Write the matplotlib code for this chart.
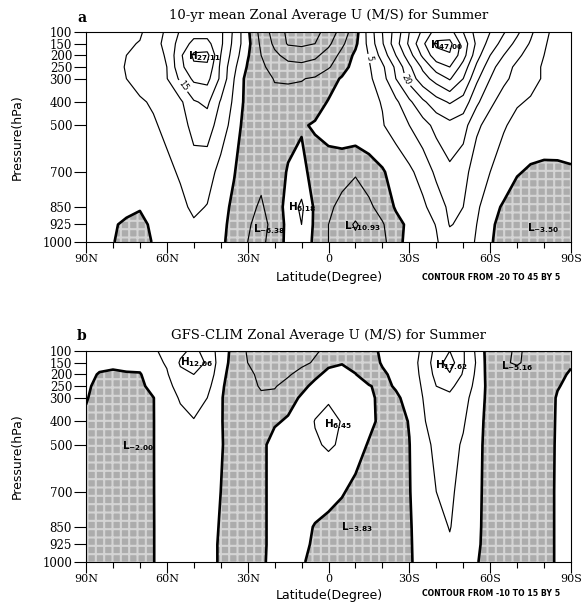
import numpy as np
import matplotlib
matplotlib.use("Agg")
import matplotlib.pyplot as plt

# ---------------- data ----------------
lats = [90, 85, 80, 75, 70, 65, 60, 55, 50, 45, 40, 35, 30, 25, 20, 15, 10, 5, 0,
        -5, -10, -15, -20, -25, -30, -35, -40, -45, -50, -55, -60, -65, -70, -75, -80, -85, -90]
plevs = [100, 150, 200, 250, 300, 400, 500, 700, 850, 925, 1000]
ytick_labels = ["100", "150", "200", "250", "300", "400", "500", "700", "850", "925", "1000"]
xtick_pos = [90, 60, 30, 0, -30, -60, -90]
xtick_labels = ["90N", "60N", "30N", "0", "30S", "60S", "90S"]

# Panel a: 10-yr mean zonal average U (m/s), one row per pressure level
ua_100 = [2, 2.5, 3, 3.5, 4.5, 7, 11, 15.5, 18, 18, 16, 9, 1, -7, -12, -16, -17, -16.5, -13, -8,
          -2, 7, 15, 22, 30, 36, 42, 42, 35, 28, 25, 20.5, 16, 11, 6, 3.5, 2]
ua_150 = [2.2, 2.8, 3.5, 4.5, 5.2, 8, 11.5, 17, 21.5, 21.5, 16, 8.5, 1.5, -6, -11, -15.5, -16, -15, -11, -6,
          -1, 6.5, 14.5, 23, 31, 39, 46, 46.5, 38, 29, 23, 18, 13.5, 9.5, 5.5, 3, 2]
ua_200 = [2.5, 3, 4, 5, 6.5, 8, 10.5, 19, 26, 26.5, 15, 7.5, 0.5, -5, -9, -11.5, -12, -11, -8, -3.5,
          1, 5.2, 12, 20, 28, 36, 43, 44.5, 37, 27, 20, 15, 11, 8, 5, 3, 2]
ua_250 = [2.5, 3, 4, 5.2, 6.5, 8.5, 10, 18.5, 24, 24, 14, 6, -0.5, -4, -7, -8.5, -8.8, -8, -5.5, -2,
          2, 4.5, 9, 16, 24, 31, 37.5, 40, 33, 24, 17, 12, 9, 6.5, 4.5, 3, 2]
ua_300 = [2.5, 3, 4, 5, 6.5, 8, 9.8, 16, 21, 21.5, 14, 5, -2, -3.5, -5.2, -5.3, -5.2, -4.5, -2, 0.5,
          2.5, 4, 8, 15, 22, 28, 32, 35.5, 30, 21, 15, 11, 8.5, 6.5, 4.5, 3, 2]
ua_400 = [2, 2.5, 3.5, 4, 4.5, 5.5, 7, 9, 14.5, 16, 9.5, 4, -2, -3, -4, -4, -3.5, -2, 0.3, 2,
          3.5, 4, 5.2, 9, 14, 19, 23, 25.5, 23, 16, 11, 8, 5.5, 4.5, 3.5, 2.5, 2]
ua_500 = [1.5, 2, 2.5, 3, 4, 4.5, 6, 8, 11.5, 12.5, 7.5, 3, -3, -3.5, -3.5, -2, -0.5, 0.5, 2, 3,
          3.5, 4, 4.7, 7, 10, 13, 16.5, 18.5, 17, 11, 8, 5.5, 3.5, 2.5, 2, 1.5, 1.5]
ua_700 = [1, 1.5, 1.5, 2, 2.5, 3, 4, 5.5, 8, 7, 3.5, 0.3, -4, -4, -3, 0.5, 1.5, -2, -2.5, -3,
          -4.5, -2.5, -0.5, 2, 4, 7, 11, 14, 12, 7, 5, 2.5, 0.3, -0.5, -0.7, -0.5, -0.3]
ua_850 = [1, 1, 0.8, 0.8, 0.2, 1.5, 2.5, 4, 5.8, 4.8, 2, -1.2, -4, -5.5, -3, 2, 6, -1, -4, -6.5,
          -8, -6, -3, 0.5, 2, 4, 7.5, 11, 10, 6, 1.5, -0.5, -2, -3, -3.2, -3, -2.5]
ua_925 = [1, 0.8, 0.3, -0.5, -0.7, 0.5, 2, 3.5, 4.5, 4, 1.5, -1.8, -4.5, -6.5, -3.5, 1.5, 5, -1, -5, -8,
          -10.5, -8, -5.5, -1.5, 1, 3, 5.2, 10.3, 9, 5, 0.8, -1.5, -2.8, -3.4, -3.5, -3, -2.5]
ua_1000 = [1, 0.5, 0.2, -1.5, -1.8, 0.3, 1.5, 3, 4, 3.5, 1, -2, -5, -6, -3, 1.5, 3, -1, -5, -7,
           -9, -7, -6.5, -1.5, 1.5, 3, 4.5, 8, 7.5, 4.5, 0.5, -2, -3, -3.2, -3.3, -2.5, -2]

# Panel b: GFS - CLIM zonal average U difference (m/s)
ub_100 = [1, 1.5, 2, 3, 4, 4.5, 6, 9, 11, 8.5, 2.5, -1.5, -5.5, -7, -7.5, -7, -6.5, -5.5, -4, -3,
          -2, -1, 0.5, 1, 2, 6, 11.5, 15, 10.5, 4, -3, -4.5, -5.3, -4.5, -2.5, -1.5, -0.5]
ub_150 = [1, 0.8, 0.7, 1, 1.5, 3.5, 5.5, 10.5, 12, 9.5, 2.5, -2, -5, -6.5, -7, -6.5, -6, -4.5, -0.8, -0.2,
          -1, -1.5, 0.3, 1, 2.5, 6.5, 12.5, 17.5, 10.5, 4.5, -3, -4.8, -5.2, -4.5, -2.5, -1.2, -0.3]
ub_200 = [0.8, -0.2, -0.5, -0.3, -0.3, 2.5, 4.5, 9, 10, 8, 2, -3, -4.5, -5.5, -6, -5.5, -3.5, -0.8, 1, 1.2,
          0.1, -1.5, -0.5, 0.8, 2.5, 6, 11.5, 14.5, 9.5, 4, -2.5, -4, -4.3, -3.5, -2, -0.6, 0.3]
ub_250 = [0.5, -0.8, -1, -1, -1, 1.5, 3.5, 7, 8, 6.5, 1, -3, -4, -5.3, -5.3, -3.5, -1, 1, 2.5, 2.5,
          1.5, 0.2, -0.8, 0.3, 2, 5.5, 10, 11, 8, 3.5, -2, -3.5, -3.5, -3, -1.8, -0.2, 0.8]
ub_300 = [0.2, -1, -1.2, -1.5, -1.5, -0.1, 2.5, 5.5, 6.5, 5, 0.5, -3, -3.5, -4.5, -4, -1.5, 0.5, 3, 4.5, 3.5,
          2.5, 0.8, -1, -0.5, 1, 5, 8.5, 9, 6.5, 3, -2, -3, -3, -2.5, -1.8, 0.3, 1]
ub_400 = [-0.5, -1.3, -1.5, -1.8, -2, -0.1, 2, 3.5, 4.8, 3.5, 0.3, -2, -2.5, -3, -0.5, 0.5, 2, 5.2, 6.3, 4.8,
          3.5, 1.5, -1.5, -1.5, 0.2, 4.5, 7, 7.5, 5.5, 2, -2, -2.8, -3, -2.5, -1.8, 0.4, 1]
ub_500 = [-1, -1.5, -1.8, -2, -2.1, -0.1, 2, 3, 3.5, 2.5, 0.3, -1.5, -2, -1, 1.5, 2, 3, 4.5, 5.5, 4.5,
          2.5, -0.5, -2.5, -2, -0.1, 3.5, 6, 6.5, 4.5, 1.5, -2, -2.8, -3, -2.5, -1.8, 0.5, 1]
ub_700 = [-1, -1.3, -1.5, -1.8, -2, -0.1, 1.8, 2.5, 3, 2, 0, -1.5, -2, -1, 1.5, 2, 2.5, 2.5, 2, 0.5,
          -1.5, -3, -3.3, -2.5, -0.2, 2.5, 5, 5.8, 3.5, 1.2, -2, -2.8, -3.5, -2.5, -1.5, 0.5, 1]
ub_850 = [-1, -1.2, -1.5, -1.5, -1.8, -0.1, 1.5, 2, 2.5, 1.5, -0.3, -1.5, -2, -1, 1.5, 1.5, 1.5, -0.3, -1.5, -2.5,
          -3.8, -3.6, -3.3, -2.5, -0.3, 1.5, 3.5, 5.2, 3, 1, -2, -2.5, -3, -2.5, -1.5, 0.5, 1]
ub_925 = [-1, -1.2, -1.5, -1.5, -1.6, -0.1, 1.5, 2, 2, 1.5, -0.5, -1.5, -2, -1, 1.5, 1.2, 0.8, -0.5, -1.5, -2.3,
          -3.2, -3.2, -3, -2.3, -0.3, 1.2, 3, 4.5, 2.5, 0.8, -2, -2.5, -3, -2.5, -1.5, 0.5, 1]
ub_1000 = [-1, -1.2, -1.5, -1.5, -1.5, -0.1, 1.5, 2, 2, 1.5, -0.5, -1.5, -2, -0.8, 1.5, 1, 0.3, -0.8, -1.5, -2,
           -2.5, -3, -3, -2, -0.3, 1, 2.5, 4, 2.5, 0.3, -2, -2.5, -3, -2.5, -1.5, 0.5, 1]

levels_a = [-20, -15, -10, -5, 5, 10, 15, 20, 25, 30, 35, 40, 45]
levels_b = [-10, -5, 5, 10, 15]

# extrema annotations: (letter, value, lat, pressure)
extrema_a = [("H", "27.11", 45.8, 203), ("L", "-6.38", 22, 944), ("H", "6.18", 9.8, 850),
             ("L", "-10.93", -12.8, 931), ("H", "47.00", -44, 156), ("L", "-3.50", -79.6, 940)]
extrema_b = [("H", "12.06", 48.8, 147), ("L", "-2.00", 70.7, 505), ("H", "6.45", -3.5, 410),
             ("H", "17.62", -45.5, 160), ("L", "-5.16", -70, 165), ("L", "-3.83", -10.6, 851)]

# inline contour-label anchor points (lat, pressure)
clabel_pts_a = [(55, 340), (-16, 211), (-27.7, 314)]
clabel_pts_b = []

titles = ["10-yr mean Zonal Average U (M/S) for Summer",
          "GFS-CLIM Zonal Average U (M/S) for Summer"]
notes = ["CONTOUR FROM -20 TO 45 BY 5", "CONTOUR FROM -10 TO 15 BY 5"]
panel_letters = ["a", "b"]

# ---------------- plotting ----------------
plt.rcParams["hatch.color"] = "#d4d4d4"
plt.rcParams["hatch.linewidth"] = 1.5
plt.rcParams["contour.negative_linestyle"] = "solid"

fig = plt.figure(figsize=(5.82, 6.03), dpi=100)
W, H = 582.0, 603.0
ax_a = fig.add_axes([86 / W, 1 - 242 / H, 485 / W, 210 / H])
ax_b = fig.add_axes([86 / W, 1 - 562 / H, 485 / W, 211 / H])

U_a = np.array([ua_100, ua_150, ua_200, ua_250, ua_300, ua_400, ua_500, ua_700, ua_850, ua_925, ua_1000])
U_b = np.array([ub_100, ub_150, ub_200, ub_250, ub_300, ub_400, ub_500, ub_700, ub_850, ub_925, ub_1000])
LAT, P = np.meshgrid(np.array(lats, float), np.array(plevs, float))

serif = "DejaVu Serif"
label_y_px = [278, 595]
letter_y_px = [18, 336]

for i, (ax, U, lv, ext, cpts) in enumerate([
        (ax_a, U_a, levels_a, extrema_a, clabel_pts_a),
        (ax_b, U_b, levels_b, extrema_b, clabel_pts_b)]):
    ax.contourf(LAT, P, U, levels=[-100, 0], colors=["#acacac"], hatches=["++"])
    cs = ax.contour(LAT, P, U, levels=lv, colors="k", linewidths=0.85)
    ax.contour(LAT, P, U, levels=[0], colors="k", linewidths=1.9)
    if cpts:
        ax.clabel(cs, manual=cpts, fmt="%d", fontsize=6, inline=True, inline_spacing=2)

    ax.set_xlim(90, -90)
    ax.set_ylim(1000, 100)
    ax.set_yticks(plevs)
    ax.set_yticklabels(ytick_labels, fontsize=8.5, family=serif)
    ax.set_xticks(xtick_pos)
    ax.set_xticklabels(xtick_labels, fontsize=8, family=serif)
    ax.set_xticks(np.arange(-80, 90, 10), minor=True)
    ax.tick_params(axis="x", which="major", direction="out", length=8, width=0.8, pad=1)
    ax.tick_params(axis="x", which="minor", direction="out", length=4, width=0.8)
    ax.tick_params(axis="y", which="major", direction="out", length=9, width=0.8, pad=1)
    for s in ax.spines.values():
        s.set_linewidth(0.8)

    ax.set_ylabel("Pressure(hPa)", fontsize=9)
    ax.yaxis.set_label_coords(-0.128, 0.5)
    ax.set_title(titles[i], fontsize=9.5, family=serif, pad=9)

    fig.text(329 / W, 1 - label_y_px[i] / H, "Latitude(Degree)", fontsize=9,
             ha="center", va="center")
    fig.text(560 / W, 1 - (label_y_px[i] - 1) / H, notes[i], fontsize=5.6, fontweight="bold",
             family="DejaVu Sans", ha="right", va="center")
    fig.text(82 / W, 1 - letter_y_px[i] / H, panel_letters[i], fontsize=10, fontweight="bold",
             family=serif, ha="center", va="center")

    for kind, val, la, pp in ext:
        ax.text(la, pp, rf"$\mathbf{{{kind}}}_{{\mathbf{{{val}}}}}$", ha="center", va="center",
                fontsize=7.5)

fig.savefig("out.png", dpi=100)
